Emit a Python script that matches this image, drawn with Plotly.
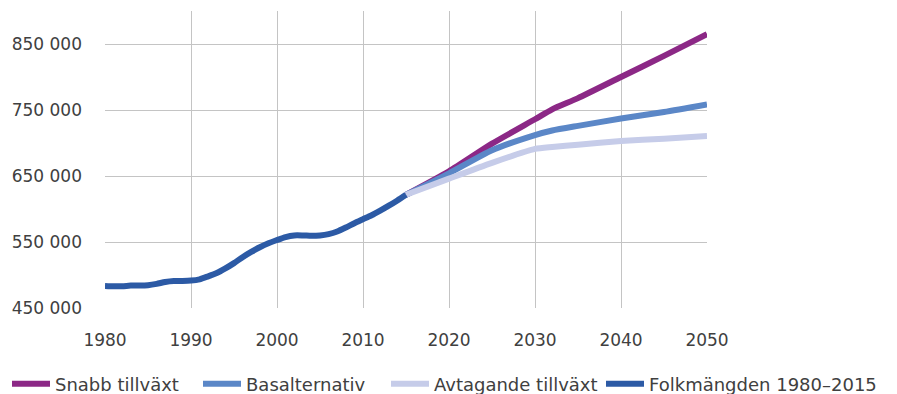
import plotly.graph_objects as go

# Observed population, 1980-2015
hist_years = list(range(1980, 2016))
hist_pop = [483500, 483000, 483000, 484000, 484000, 484500, 486500, 489500,
            491000, 491000, 491500, 493500, 498000, 503000, 510000, 518000,
            527000, 535000, 542000, 548000, 553000, 557500, 560000, 560000,
            559500, 560000, 562000, 566000, 572000, 578500, 584500, 590500,
            597500, 605000, 613000, 621500]

# Projection scenarios, 2015-2050
proj_years = [2015, 2020, 2025, 2030, 2032, 2035, 2040, 2045, 2050]
snabb = [621500, 657000, 699000, 736000, 751000, 768000, 800000, 832000, 865000]
basal = [621500, 654000, 689000, 712000, 719000, 726000, 737000, 747000, 758500]
avtag = [621500, 646000, 670000, 691000, 694000, 697500, 703000, 706500, 710500]

y_tickvals = [450000, 550000, 650000, 750000, 850000]
y_ticktext = ["450 000", "550 000", "650 000", "750 000", "850 000"]
x_tickvals = [1980, 1990, 2000, 2010, 2020, 2030, 2040, 2050]

W, H = 897, 394
M_L, M_R, M_T, M_B = 105, 190, 11, 86
plot_w = W - M_L - M_R
plot_h = H - M_T - M_B

# name, x, y, colour, legend id, left edge of the legend entry (px)
series = [
    ("Snabb tillväxt", proj_years, snabb, "#8c2886", "legend", 7),
    ("Basalternativ", proj_years, basal, "#5b87c7", "legend2", 198),
    ("Avtagande tillväxt", proj_years, avtag, "#c6cce9", "legend3", 386),
    ("Folkmängden 1980–2015", hist_years, hist_pop, "#2c5aa5", "legend4", 601),
]

fig = go.Figure()
for name, xs, ys, color, leg, _ in series:
    fig.add_trace(go.Scatter(
        x=xs, y=ys, name=name, mode="lines", legend=leg,
        line=dict(color=color, width=6, shape="spline", smoothing=0.6),
        hoverinfo="skip",
    ))

font_family = "Verdana, DejaVu Sans, sans-serif"
legend_y = (plot_h - (384 - M_T)) / plot_h  # centre line of the legend row

legends = {}
for _, _, _, _, leg, left_px in series:
    legends[leg] = dict(
        orientation="h", xref="paper", yref="paper",
        x=(left_px - M_L) / plot_w, xanchor="left",
        y=legend_y, yanchor="middle",
        font=dict(size=18, color="#404040", family=font_family),
        itemwidth=38, bgcolor="rgba(0,0,0,0)",
    )

fig.update_layout(
    width=W, height=H,
    margin=dict(l=M_L, r=M_R, t=M_T, b=M_B, autoexpand=False),
    paper_bgcolor="white", plot_bgcolor="white",
    font=dict(family=font_family, size=17, color="#404040"),
    showlegend=True,
    xaxis=dict(
        range=[1980, 2050], tickvals=x_tickvals,
        showgrid=True, gridcolor="#c4c4c4", gridwidth=1,
        zeroline=False, showline=False, ticks="",
        ticklabelstandoff=20,
    ),
    yaxis=dict(
        range=[450000, 900000], tickvals=y_tickvals, ticktext=y_ticktext,
        showgrid=True, gridcolor="#c4c4c4", gridwidth=1,
        zeroline=False, showline=False, ticks="",
        ticklabelstandoff=22,
    ),
    **legends,
)

fig.write_html("out.html")
